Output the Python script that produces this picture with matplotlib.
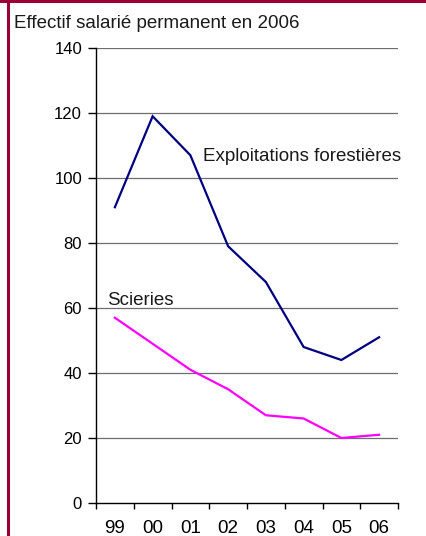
import numpy as np
import matplotlib
matplotlib.use('Agg')
import matplotlib.pyplot as plt
from matplotlib.lines import Line2D

plt.rcParams['font.family'] = ['Liberation Sans', 'DejaVu Sans']

years = ['99', '00', '01', '02', '03', '04', '05', '06']
exploitations = [91, 119, 107, 79, 68, 48, 44, 51]
scieries = [57, 49, 41, 35, 27, 26, 20, 21]
yticks = [0, 20, 40, 60, 80, 100, 120, 140]

W, H = 426, 536
fig = plt.figure(figsize=(W / 100, H / 100), dpi=100)
ax = fig.add_axes([96 / W, 33 / H, (398 - 96) / W, (503 - 48) / H])

x = np.arange(len(years))
ax.plot(x, exploitations, color='#000080', lw=1.6, solid_joinstyle='miter')
ax.plot(x, scieries, color='#ff00ff', lw=1.6, solid_joinstyle='miter')

ax.set_xlim(-0.5, len(years) - 0.5)
ax.set_ylim(0, 140)
ax.set_yticks(yticks)
ax.set_yticklabels([str(v) for v in yticks], fontsize=12)
for v in yticks[1:]:
    ax.axhline(v, color='#6e6e6e', lw=0.9, zorder=0)

ax.set_xticks(x)
ax.set_xticklabels(years, fontsize=13.5)
ax.set_xticks(np.arange(len(years) + 1) - 0.5, minor=True)
ax.tick_params(axis='x', which='major', length=0, pad=12)
ax.tick_params(axis='x', which='minor', length=4, width=1, direction='out', color='black')
ax.tick_params(axis='y', length=6, width=1, direction='out', pad=4, color='black')

for s in ['top', 'right']:
    ax.spines[s].set_visible(False)
ax.spines['left'].set_linewidth(1)
ax.spines['bottom'].set_linewidth(1)

ax.text(2.33, 105.2, 'Exploitations forestières', fontsize=13.5, va='baseline', ha='left', color='#1a1a1a')
ax.text(-0.21, 60.9, 'Scieries', fontsize=13.5, va='baseline', ha='left', color='#1a1a1a')

fig.text(14 / W, 1 - 28 / H, 'Effectif salarié permanent en 2006', fontsize=13.5,
         va='baseline', ha='left', color='#1a1a1a')

# frame (top and left edges)
border = '#990033'
fig.add_artist(Line2D([0, 1], [1 - 1 / H, 1 - 1 / H], color=border, lw=2.2, transform=fig.transFigure))
fig.add_artist(Line2D([7.5 / W, 7.5 / W], [0, 1], color=border, lw=2.2, transform=fig.transFigure))

fig.savefig('out.png', dpi=100)
